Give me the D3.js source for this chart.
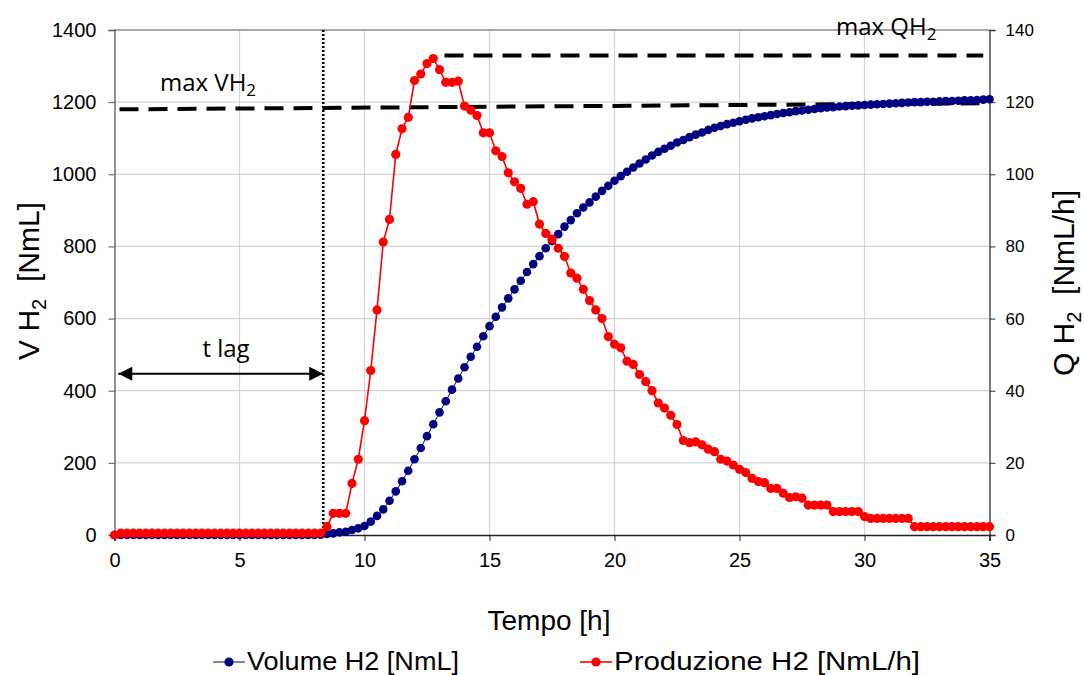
<!DOCTYPE html>
<html><head><meta charset="utf-8">
<script src="https://cdn.jsdelivr.net/npm/d3@7"></script>
<style>
body{margin:0;background:#fff;}
svg{display:block;}
text{font-family:"Liberation Sans",Arial,sans-serif;fill:#000;}
.ann{font-family:"Open Sans","Noto Sans",sans-serif;}
</style>
</head><body>
<svg id="c" width="1084" height="675"></svg>
<script>
// ---------------- DATA ----------------
const tempo = d3.range(0, 35.001, 0.25); // sampling times [h]

const volumeH2 = [
  0,0,0,0, 0,0,0,0, 0,0,0,0, 0,0,0,0, 0,0,0,0, 0,0,0,0, 0,0,0,0, 0,0,0,0, 0, 1,
  2.8, 4.6, 7.4, 9.2,
  13.9, 18.5, 25, 37,
  53, 71, 95, 121,
  149, 178, 210, 241,
  274, 307, 340, 371,
  403, 434, 465, 494,
  522, 551, 579, 605,
  631, 656, 681, 705,
  729, 751, 773, 795,
  815, 834, 855, 873,
  892, 908, 922, 938,
  954, 968, 982, 995,
  1007, 1019, 1030, 1041,
  1052, 1062, 1071, 1079,
  1088, 1095, 1103, 1110,
  1116, 1123, 1129, 1134,
  1139, 1143, 1147, 1151,
  1155, 1158, 1161, 1164,
  1167, 1170, 1172, 1175,
  1177, 1179, 1181, 1183,
  1185, 1186, 1188, 1189,
  1190, 1191, 1192, 1193,
  1194, 1195, 1196, 1197,
  1198, 1199, 1200, 1200,
  1201, 1201, 1202, 1203, 1203, 1204, 1205, 1205, 1206, 1207, 1208
];

const produzioneH2 = [
  0,
  0.5,0.5,0.5,0.5, 0.5,0.5,0.5,0.5, 0.5,0.5,0.5,0.5, 0.5,0.5,0.5,0.5,
  0.5,0.5,0.5,0.5, 0.5,0.5,0.5,0.5, 0.5,0.5,0.5,0.5, 0.5,0.5,0.5,0.5,
  0.5,
  2.3, 6.0, 6.0, 6.0,
  14.3, 21.0, 31.7, 45.6,
  62.4, 81.2, 87.5, 105.5,
  112.6, 115.8, 126.0, 127.8,
  130.7, 132.1, 129.0, 125.5,
  125.5, 125.8, 118.9, 117.8,
  116.3, 111.5, 111.5, 106.5,
  104.9, 100.4, 97.9, 96.1,
  91.7, 92.4, 86.2, 83.6,
  82.0, 79.5, 77.2, 72.6,
  71.2, 68.1, 65.0, 62.4,
  60.0, 55.0, 52.9, 51.9,
  48.2, 47.3, 44.5, 42.5,
  40.0, 36.6, 35.2, 33.2,
  30.6, 26.2, 25.6, 25.8,
  25.0, 23.8, 23.1, 21.0,
  20.5, 19.4, 18.2, 17.3,
  15.7, 14.8, 14.5, 12.9,
  12.9, 11.6, 10.4, 10.6,
  10.2, 8.3, 8.3, 8.3,
  8.3, 6.5, 6.5, 6.5,
  6.5, 6.5, 5.1, 4.6,
  4.6, 4.6, 4.6, 4.6,
  4.6, 4.6, 2.3, 2.3,
  2.3, 2.3, 2.3, 2.3, 2.3, 2.3, 2.3, 2.3, 2.3, 2.3, 2.3
];

const xTicks = [0, 5, 10, 15, 20, 25, 30, 35];
const yLeftTicks = [0, 200, 400, 600, 800, 1000, 1200, 1400];
const yRightTicks = [0, 20, 40, 60, 80, 100, 120, 140];

const seriesNames = ["Volume H2 [NmL]", "Produzione H2 [NmL/h]"];

// annotations (data units)
const tLag = 8.35;                       // [h]
const tLagArrow = {from: 0.15, to: 8.35, v: 447};
const maxVLine = {t0: 0.2, v0: 1180, t1: 35, v1: 1197};   // left axis
const maxQLine = {t0: 13.2, t1: 34.75, q: 132.9};         // right axis

// ---------------- LAYOUT ----------------
const L = 114.5, R = 989.5, T = 30, B = 535;
const svg = d3.select("#c");

const x = d3.scaleLinear().domain([0, 35]).range([L, R]);
const yL = d3.scaleLinear().domain([0, 1400]).range([B, T]);
const yR = d3.scaleLinear().domain([0, 140]).range([B, T]);

// gridlines
svg.append("g").selectAll("line").data(xTicks.slice(1, -1)).join("line")
  .attr("x1", d => x(d)).attr("x2", d => x(d)).attr("y1", T).attr("y2", B)
  .attr("stroke", "#d4d4d4").attr("stroke-width", 1.2);
svg.append("g").selectAll("line").data(yLeftTicks.slice(1)).join("line")
  .attr("x1", L).attr("x2", R).attr("y1", d => yL(d)).attr("y2", d => yL(d))
  .attr("stroke", d => d === 1400 ? "#8a8a8a" : "#d4d4d4").attr("stroke-width", d => d === 1400 ? 1.4 : 1.2);

// axes
const axL = svg.append("g").attr("transform", `translate(${L},0)`)
  .call(d3.axisLeft(yL).tickValues(yLeftTicks).tickSize(6).tickPadding(12).tickFormat(d3.format("d")));
axL.selectAll("text").style("font-size", "20px");
axL.select(".domain").attr("stroke", "#555").attr("stroke-width", 1.3);
axL.selectAll(".tick line").attr("stroke", "#555");

const axR = svg.append("g").attr("transform", `translate(${R},0)`)
  .call(d3.axisRight(yR).tickValues(yRightTicks).tickSize(6).tickPadding(10).tickFormat(d3.format("d")));
axR.selectAll("text").style("font-size", "17px");
axR.select(".domain").attr("stroke", "#333").attr("stroke-width", 1.3);
axR.selectAll(".tick line").attr("stroke", "#333");

const axB = svg.append("g").attr("transform", `translate(0,${B})`)
  .call(d3.axisBottom(x).tickValues(xTicks).tickSize(6).tickPadding(12).tickFormat(d3.format("d")));
axB.selectAll("text").style("font-size", "20px");
axB.select(".domain").attr("stroke", "#222").attr("stroke-width", 1.5);
axB.selectAll(".tick line").attr("stroke", "#222");

// annotation lines
svg.append("line")
  .attr("x1", x(maxVLine.t0)).attr("y1", yL(maxVLine.v0))
  .attr("x2", x(maxVLine.t1)).attr("y2", yL(maxVLine.v1))
  .attr("stroke", "#000").attr("stroke-width", 4).attr("stroke-dasharray", "19,10");
svg.append("line")
  .attr("x1", x(maxQLine.t0)).attr("y1", yR(maxQLine.q))
  .attr("x2", x(maxQLine.t1)).attr("y2", yR(maxQLine.q))
  .attr("stroke", "#000").attr("stroke-width", 4).attr("stroke-dasharray", "19,10");
svg.append("line")
  .attr("x1", x(tLag)).attr("x2", x(tLag)).attr("y1", T).attr("y2", B)
  .attr("stroke", "#000").attr("stroke-width", 2.6).attr("stroke-dasharray", "2,2");

// arrow
const defs = svg.append("defs");
["s", "e"].forEach(k => {
  defs.append("marker").attr("id", "ah" + k)
    .attr("viewBox", "0 0 10 10").attr("refX", 10).attr("refY", 5)
    .attr("markerWidth", 9).attr("markerHeight", 7).attr("markerUnits", "strokeWidth")
    .attr("orient", "auto-start-reverse")
    .append("path").attr("d", "M0,0 L10,5 L0,10 Z").attr("fill", "#000");
});
svg.append("line")
  .attr("x1", x(tLagArrow.from)).attr("x2", x(tLagArrow.to))
  .attr("y1", yL(tLagArrow.v)).attr("y2", yL(tLagArrow.v))
  .attr("stroke", "#000").attr("stroke-width", 2)
  .attr("marker-start", "url(#ahs)").attr("marker-end", "url(#ahe)");

// series
const vData = tempo.map((t, i) => [t, volumeH2[i]]);
const qData = tempo.map((t, i) => [t, produzioneH2[i]]);

svg.append("path").datum(vData)
  .attr("d", d3.line().x(d => x(d[0])).y(d => yL(d[1])))
  .attr("fill", "none").attr("stroke", "#000080").attr("stroke-width", 1);
svg.append("g").selectAll("circle").data(vData).join("circle")
  .attr("cx", d => x(d[0])).attr("cy", d => yL(d[1])).attr("r", 4.3)
  .attr("fill", "#000080");

svg.append("path").datum(qData)
  .attr("d", d3.line().x(d => x(d[0])).y(d => yR(d[1])))
  .attr("fill", "none").attr("stroke", "#ff0000").attr("stroke-width", 1.6);
svg.append("g").selectAll("circle").data(qData).join("circle")
  .attr("cx", d => x(d[0])).attr("cy", d => yR(d[1])).attr("r", 4.6)
  .attr("fill", "#ff0000");

// annotation labels
function subText(g, main, sub, tail, size, subSize) {
  const t = g.append("text").style("font-size", size + "px");
  t.append("tspan").text(main);
  t.append("tspan").text(sub).style("font-size", subSize + "px").attr("dy", size * 0.22);
  if (tail) t.append("tspan").text(tail).attr("dy", -size * 0.22);
  return t;
}
subText(svg, "max VH", "2", null, 24, 17).attr("class", "ann").attr("x", 160).attr("y", 91);
subText(svg, "max QH", "2", null, 24, 17).attr("class", "ann").attr("x", 836).attr("y", 35);
svg.append("text").attr("class", "ann").attr("x", 226).attr("y", 357)
  .attr("text-anchor", "middle").style("font-size", "24px").text("t lag");

// axis titles
subText(svg, "V H", "2", "  [NmL]", 30, 20)
  .attr("text-anchor", "middle").attr("transform", "translate(39,281) rotate(-90)")
  .style("white-space", "pre");
subText(svg, "Q H", "2", "  [NmL/h]", 30, 20)
  .attr("text-anchor", "middle").attr("transform", "translate(1074,283) rotate(-90)")
  .style("white-space", "pre");
svg.append("text").attr("x", 549).attr("y", 630).attr("text-anchor", "middle")
  .style("font-size", "28px").text("Tempo [h]");

// legend
const legend = [
  {name: seriesNames[0], color: "#000080", x: 213, lw: 1, w: 212},
  {name: seriesNames[1], color: "#ff0000", x: 580, lw: 1.6, w: 306}
];
const lg = svg.append("g").selectAll("g").data(legend).join("g")
  .attr("transform", d => `translate(${d.x},662)`);
lg.append("line").attr("x1", 0).attr("x2", 32).attr("y1", 0).attr("y2", 0)
  .attr("stroke", d => d.color).attr("stroke-width", d => d.lw);
lg.append("circle").attr("cx", 16).attr("cy", 0).attr("r", 4.6).attr("fill", d => d.color);
lg.append("text").attr("x", 34).attr("y", 8).style("font-size", "26px")
  .attr("textLength", d => d.w).attr("lengthAdjust", "spacingAndGlyphs")
  .text(d => d.name);
</script>
</body></html>
